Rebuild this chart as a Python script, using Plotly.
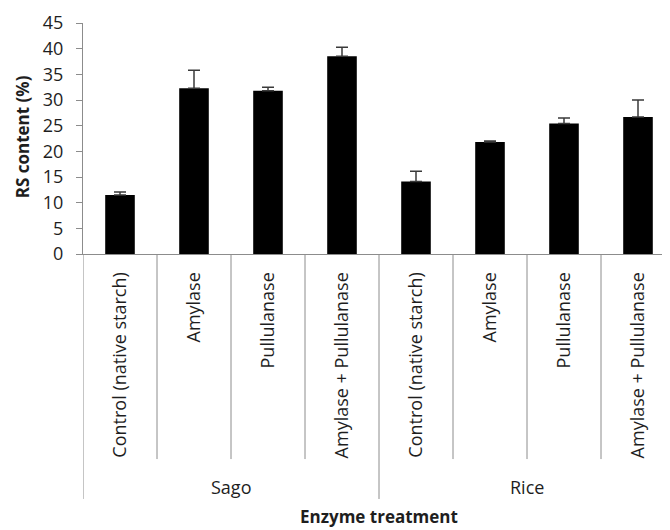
import plotly.graph_objects as go

treatments = ["Control (native starch)", "Amylase", "Pullulanase", "Amylase + Pullulanase"]
groups = ["Sago", "Rice"]
rs_content = [11.5, 32.3, 31.8, 38.5, 14.1, 21.8, 25.4, 26.7]
rs_error = [0.6, 3.5, 0.7, 1.8, 2.0, 0.2, 1.1, 3.3]
y_ticks = [0, 5, 10, 15, 20, 25, 30, 35, 40, 45]

labels = treatments * len(groups)
xs = list(range(len(labels)))

FONT = "Open Sans"
TXT = "#1e1e1e"
AX = "#8c8c8c"

OFF = 8  # default page body margin
PAGE_W, PAGE_H = 670, 530
W, H = PAGE_W - OFF, PAGE_H - OFF
plot_left, plot_top, plot_bottom = 83, 23, 254.5  # page pixels
ml, mt = plot_left - OFF, plot_top - OFF
mb = PAGE_H - plot_bottom
plot_h = plot_bottom - plot_top
plot_w = PAGE_W - plot_left
cat_w = 74.0

def py(pix):
    return (plot_bottom - pix) / plot_h

def px(pix):
    return (pix - plot_left) / plot_w

fig = go.Figure()
fig.add_trace(go.Bar(
    x=xs, y=rs_content, width=0.4,
    marker=dict(color="black", line=dict(width=0)),
    error_y=dict(type="data", symmetric=False, array=rs_error,
                 arrayminus=[0] * len(rs_error),
                 color="#3a3a3a", thickness=1.5, width=6),
))

shapes = []
n = len(treatments)
for i in range(len(labels) + 1):
    xb = i - 0.5
    y1 = py(500) if i % n == 0 else py(460)
    shapes.append(dict(type="line", xref="x", yref="paper", x0=xb, x1=xb,
                       y0=0, y1=y1, line=dict(color=AX, width=1)))

annotations = []
for g, name in enumerate(groups):
    annotations.append(dict(x=g * n + (n - 1) / 2, y=py(488), xref="x", yref="paper",
                            text=name, showarrow=False, yanchor="middle",
                            font=dict(family=FONT, size=18, color=TXT)))
annotations.append(dict(x=(len(labels) - 1) / 2, y=py(518), xref="x", yref="paper",
                        text="<b>Enzyme treatment</b>", showarrow=False, yanchor="middle",
                        font=dict(family=FONT, size=17, color=TXT)))
annotations.append(dict(x=px(22.5), xref="paper", yref="paper", y=py(137),
                        xanchor="center", yanchor="middle",
                        text="<b>RS content (%)</b>", textangle=-90, showarrow=False,
                        font=dict(family=FONT, size=17, color=TXT)))

fig.update_layout(
    width=W, height=H,
    margin=dict(l=ml, r=0, t=mt, b=mb, autoexpand=False),
    plot_bgcolor="white", paper_bgcolor="white",
    showlegend=False,
    shapes=shapes, annotations=annotations,
    xaxis=dict(range=[-0.5, -0.5 + plot_w / cat_w], tickvals=xs, ticktext=labels,
               tickangle=-90, showline=True, linecolor=AX, linewidth=1, ticks="",
               showgrid=False, zeroline=False, ticklabelstandoff=10, automargin=False,
               tickfont=dict(family=FONT, size=18, color=TXT)),
    yaxis=dict(range=[0, 45], tickvals=y_ticks, showline=True, linecolor=AX,
               linewidth=1, ticks="outside", ticklen=6, tickcolor=AX,
               showgrid=False, zeroline=False, ticklabelstandoff=9, automargin=False,
               tickfont=dict(family=FONT, size=18, color=TXT)),
)

fig.write_html("out.html")
